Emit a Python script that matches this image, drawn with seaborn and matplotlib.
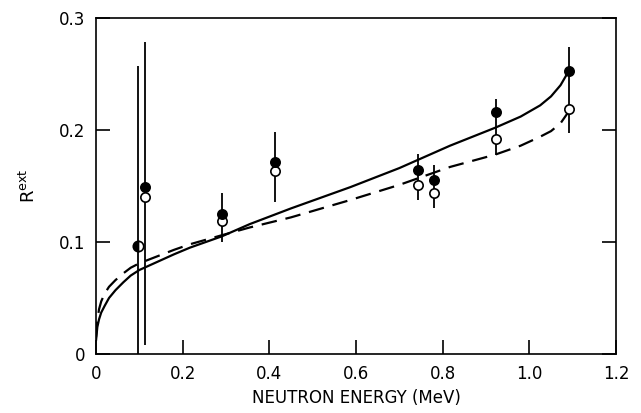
import matplotlib

matplotlib.use("Agg")

import matplotlib.pyplot as plt
import pandas as pd
import seaborn as sns

# measured points (MeV, R^ext)
energy = [0.097, 0.113, 0.290, 0.413, 0.744, 0.779, 0.923, 1.092]
r_filled = [0.096, 0.149, 0.125, 0.171, 0.164, 0.155, 0.216, 0.253]
r_open = [0.096, 0.140, 0.119, 0.163, 0.151, 0.144, 0.192, 0.219]
err_top = [0.257, 0.279, 0.144, 0.198, 0.179, 0.169, 0.228, 0.274]
err_bottom = [0.0, 0.008, 0.100, 0.136, 0.1375, 0.130, 0.178, 0.197]

# theory curves
solid_x = [0.0, 0.003, 0.007, 0.012, 0.02, 0.03, 0.045, 0.063, 0.08, 0.1, 0.14, 0.18,
           0.217, 0.29, 0.355, 0.45, 0.587, 0.7, 0.817, 0.921, 0.98, 1.025, 1.05,
           1.072, 1.09]
solid_y = [0.012, 0.024, 0.031, 0.037, 0.043, 0.050, 0.057, 0.064, 0.070, 0.075, 0.082,
           0.089, 0.095, 0.105, 0.116, 0.130, 0.149, 0.166, 0.186, 0.202, 0.212, 0.222,
           0.230, 0.240, 0.252]
dashed_x = [0.0, 0.003, 0.007, 0.012, 0.02, 0.03, 0.045, 0.063, 0.08, 0.1, 0.14, 0.18,
            0.217, 0.29, 0.355, 0.45, 0.587, 0.7, 0.817, 0.921, 0.98, 1.025, 1.05,
            1.072, 1.09]
dashed_y = [0.015, 0.030, 0.040, 0.047, 0.054, 0.060, 0.066, 0.072, 0.077, 0.081, 0.087,
            0.093, 0.098, 0.106, 0.113, 0.122, 0.1375, 0.151, 0.167, 0.178, 0.186, 0.194,
            0.199, 0.206, 0.216]

x_ticks = [0, 0.2, 0.4, 0.6, 0.8, 1.0, 1.2]
x_tick_labels = ["0", "0.2", "0.4", "0.6", "0.8", "1.0", "1.2"]
y_ticks = [0, 0.1, 0.2, 0.3]
y_tick_labels = ["0", "0.1", "0.2", "0.3"]

sns.set_style("ticks")
plt.rcParams["font.family"] = ["DejaVu Sans"]
plt.rcParams["text.color"] = "black"
plt.rcParams["axes.labelcolor"] = "black"
plt.rcParams["xtick.color"] = "black"
plt.rcParams["ytick.color"] = "black"

fig = plt.figure(figsize=(6.41, 4.13), dpi=100)
ax = fig.add_axes([0.1498, 0.1429, 0.8112, 0.8135])

solid_df = pd.DataFrame({"x": solid_x, "y": solid_y})
dashed_df = pd.DataFrame({"x": dashed_x, "y": dashed_y})
sns.lineplot(data=solid_df, x="x", y="y", ax=ax, color="black", linewidth=1.6,
             sort=False, estimator=None)
sns.lineplot(data=dashed_df, x="x", y="y", ax=ax, color="black", linewidth=1.6,
             sort=False, estimator=None, dashes=False, linestyle=(0, (7, 4)))

ax.vlines(energy, err_bottom, err_top, color="black", linewidth=1.3, zorder=3)

pts = pd.DataFrame({"e": energy, "f": r_filled, "o": r_open})
sns.scatterplot(data=pts.iloc[1:], x="e", y="o", ax=ax, s=45, color="white",
                edgecolor="black", linewidth=1.2, zorder=4)
sns.scatterplot(data=pts.iloc[1:], x="e", y="f", ax=ax, s=45, color="black",
                edgecolor="black", linewidth=1.2, zorder=5)
# first point: filled and open coincide -> half filled
ax.plot(energy[0], r_filled[0], marker="o", markersize=7.5, fillstyle="left",
        markerfacecolor="black", markerfacecoloralt="white", markeredgecolor="black",
        markeredgewidth=1.2, linestyle="none", zorder=5)

ax.set_xlim(0, 1.2)
ax.set_ylim(0, 0.3)
ax.set_xticks(x_ticks)
ax.set_xticklabels(x_tick_labels)
ax.set_yticks(y_ticks)
ax.set_yticklabels(y_tick_labels)
ax.tick_params(direction="in", length=10, width=1.2, labelsize=12, pad=8,
               right=True, top=False)
for side in ax.spines.values():
    side.set_linewidth(1.2)
    side.set_color("black")

ax.set_xlabel("NEUTRON ENERGY (MeV)", fontsize=12, labelpad=4)
ax.set_ylabel(r"R$^{\mathrm{ext}}$", fontsize=13, labelpad=14)

fig.savefig("out.png", dpi=100)
plt.close(fig)
